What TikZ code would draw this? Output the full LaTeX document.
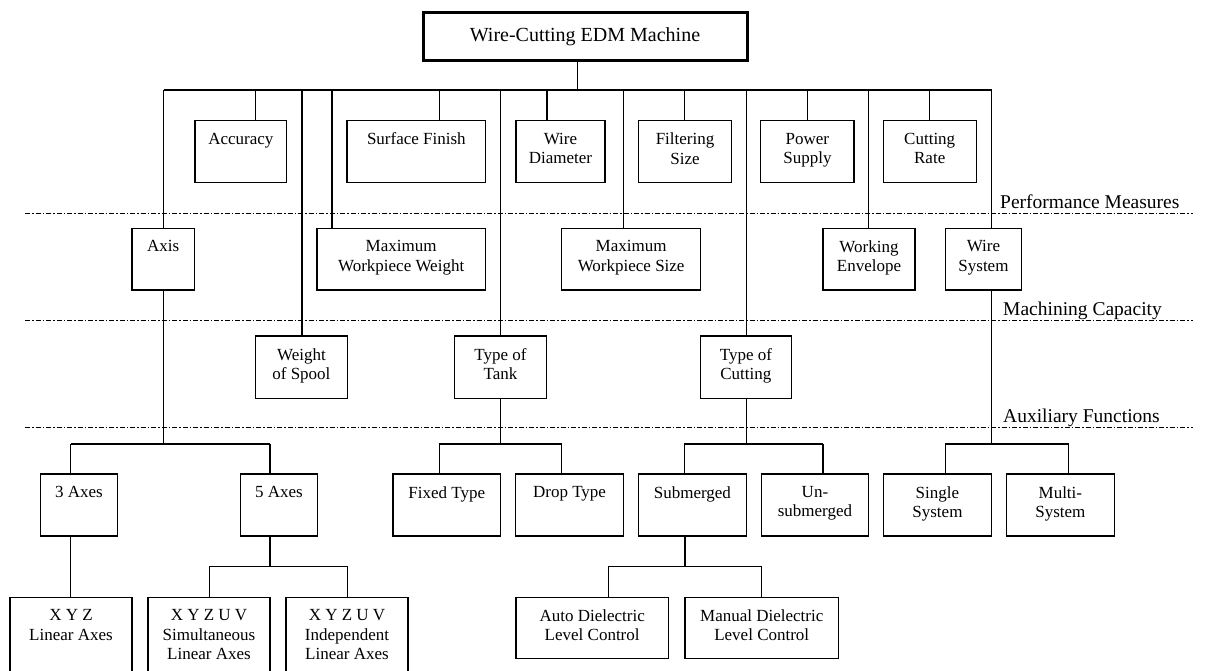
\documentclass[tikz,border=0pt]{standalone}
\usepackage{fontspec}
\setmainfont{Liberation Serif}
\usetikzlibrary{calc}
\tikzset{
  box/.style={draw, line width=1.1pt, inner sep=0pt, outer sep=0pt},
  txt/.style={font=\fontsize{17}{19.5}\selectfont, align=center, inner sep=0pt},
  conn/.style={line width=1.1pt},
  layer/.style={line width=1pt, dash pattern=on 5pt off 2pt on 1.5pt off 2pt},
  lab/.style={font=\fontsize{19.5}{22}\selectfont, inner sep=0pt},
}
\newcommand\mybox[6]{%
  \pgfmathsetmacro\mbw{#4-(#2)}%
  \pgfmathsetmacro\mbh{#5-(#3)}%
  \node[box, minimum width=\mbw pt, minimum height=\mbh pt, anchor=north west] (#1) at (#2,#3) {};
  \node[txt, anchor=north] (#1-t) at ([yshift=-12pt]#1.north) {#6};}
\begin{document}
\begin{tikzpicture}[x=1pt,y=-1pt]
\useasboundingbox (0,0) rectangle (1206,670);
\clip (0,0) rectangle (1206,670);
\fill[white] (0,0) rectangle (1206,670);

% title
\node[draw, line width=3pt, minimum width=324pt, minimum height=48pt, inner sep=0pt,
      font=\fontsize{20}{24}\selectfont] (title) at (585,36.7) {Wire-Cutting EDM Machine};

% layer lines and labels
\coordinate (L1a) at (25,213);   \coordinate (L1b) at (1193,213);
\coordinate (L2a) at (25,320.7); \coordinate (L2b) at (1193,320.7);
\coordinate (L3a) at (25,427.7); \coordinate (L3b) at (1193,427.7);
\draw[layer] (L1a) -- (L1b);
\draw[layer] (L2a) -- (L2b);
\draw[layer] (L3a) -- (L3b);
\node[lab, anchor=base west] (pm) at (1000,208) {Performance Measures};
\node[lab, anchor=base west] (mc) at (1003,315.7) {Machining Capacity};
\node[lab, anchor=base west] (af) at (1003,422.7) {Auxiliary Functions};

% row 1
\mybox{acc}{195}{120.7}{286.7}{182.7}{Accuracy}
\mybox{sf}{347}{120.7}{485.7}{182.7}{Surface Finish}
\mybox{wd}{516}{120.7}{605}{182.7}{Wire\\Diameter}
\mybox{fs}{638.7}{120.7}{731.4}{182.7}{Filtering\\Size}
\mybox{ps}{760.8}{120.7}{854}{182.7}{Power\\Supply}
\mybox{cr}{883.3}{120.7}{976.1}{182.7}{Cutting\\Rate}
% row 2
\mybox{axis}{132}{228.3}{194.4}{290}{Axis}
\mybox{mww}{317}{228.3}{485.3}{290}{Maximum\\Workpiece Weight}
\mybox{mws}{561.8}{228.3}{700.5}{290}{Maximum\\Workpiece Size}
\mybox{we}{823}{228.3}{915}{290}{Working\\Envelope}
\mybox{ws}{945.2}{228.3}{1021.7}{290}{Wire\\System}
% row 3
\mybox{wos}{255.3}{336}{347.5}{398.3}{Weight\\of Spool}
\mybox{tot}{454.3}{336}{546.5}{398.3}{Type of\\Tank}
\mybox{toc}{700.5}{336}{791.3}{398.3}{Type of\\Cutting}
% row 4
\mybox{axt}{40.7}{474}{117.3}{536}{3 Axes}
\mybox{axf}{240.7}{474}{317.3}{536}{5 Axes}
\mybox{ft}{393}{474}{500.6}{536}{Fixed Type}
\mybox{dt}{515.9}{474}{623.2}{536}{Drop Type}
\mybox{sub}{638.7}{474}{746.1}{536}{Submerged}
\mybox{uns}{761.2}{474}{868.7}{536}{Un-\\submerged}
\mybox{ss}{883.3}{474}{991.6}{536}{Single\\System}
\mybox{ms}{1006.6}{474}{1114.1}{536}{Multi-\\System}
% row 5
\mybox{xyz}{10}{597.3}{132}{690}{X Y Z\\Linear Axes}
\mybox{sim}{148}{597.3}{270}{690}{X Y Z U V\\Simultaneous\\Linear Axes}
\mybox{ind}{286}{597.3}{408}{690}{X Y Z U V\\Independent\\Linear Axes}
\mybox{auto}{516}{597.3}{668.3}{658.3}{Auto Dielectric\\Level Control}
\mybox{man}{685}{597.3}{838.5}{658.3}{Manual Dielectric\\Level Control}

% main bus
\coordinate (stem) at (577.7,90);
\coordinate (bL) at (163.5,90);
\coordinate (bR) at (991.6,90);
\draw[conn] (stem |- title.south) -- (stem);
\draw[conn] (bL) -- (bR);
\foreach \xx/\nn in {163.5/axis,255.5/acc,302/wos,332/mww,439.3/sf,500.6/tot,547/wd,623.2/mws,684.3/fs,746.1/toc,807.6/ps,868.7/we,929.7/cr,991.6/ws}{
  \coordinate (d-\nn) at (\xx,90);
  \draw[conn] (d-\nn) -- (d-\nn |- \nn.north);
}

% axis subtree
\coordinate (jax) at (163.5,444);
\coordinate (jaxL) at (70.7,444);
\coordinate (jaxR) at (270,444);
\draw[conn] (d-axis |- axis.south) -- (jax);
\draw[conn] (jaxL) -- (jaxR);
\draw[conn] (jaxL) -- (jaxL |- axt.north);
\draw[conn] (jaxR) -- (jaxR |- axf.north);
\draw[conn] (jaxL |- axt.south) -- (jaxL |- xyz.north);
\coordinate (j5) at (270,566.7);
\coordinate (j5L) at (209.3,566.7);
\coordinate (j5R) at (347.5,566.7);
\draw[conn] (j5 |- axf.south) -- (j5);
\draw[conn] (j5L) -- (j5R);
\draw[conn] (j5L) -- (j5L |- sim.north);
\draw[conn] (j5R) -- (j5R |- ind.north);

% tank subtree
\coordinate (jt) at (500.6,444);
\coordinate (jtL) at (439.3,444);
\coordinate (jtR) at (561.8,444);
\draw[conn] (jt |- tot.south) -- (jt);
\draw[conn] (jtL) -- (jtR);
\draw[conn] (jtL) -- (jtL |- ft.north);
\draw[conn] (jtR) -- (jtR |- dt.north);

% cutting subtree
\coordinate (jc) at (746.1,444);
\coordinate (jcL) at (684.3,444);
\coordinate (jcR) at (823,444);
\draw[conn] (jc |- toc.south) -- (jc);
\draw[conn] (jcL) -- (jcR);
\draw[conn] (jcL) -- (jcL |- sub.north);
\draw[conn] (jcR) -- (jcR |- uns.north);
\coordinate (js) at (685,566.7);
\coordinate (jsL) at (608.3,566.7);
\coordinate (jsR) at (761.6,566.7);
\draw[conn] (js |- sub.south) -- (js);
\draw[conn] (jsL) -- (jsR);
\draw[conn] (jsL) -- (jsL |- auto.north);
\draw[conn] (jsR) -- (jsR |- man.north);

% wire system subtree
\coordinate (jw) at (991.6,444);
\coordinate (jwL) at (945.2,444);
\coordinate (jwR) at (1068.5,444);
\draw[conn] (jw |- ws.south) -- (jw);
\draw[conn] (jwL) -- (jwR);
\draw[conn] (jwL) -- (jwL |- ss.north);
\draw[conn] (jwR) -- (jwR |- ms.north);
\end{tikzpicture}
\end{document}
